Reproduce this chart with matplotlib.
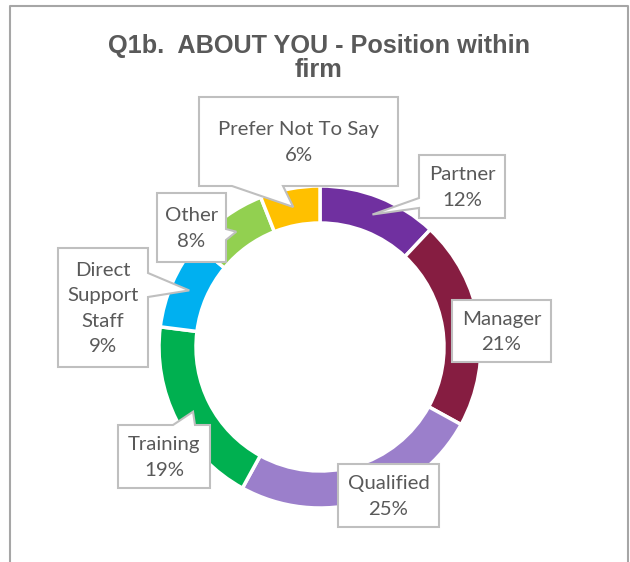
import numpy as np
import matplotlib.pyplot as plt
from matplotlib.patches import Polygon

# data
categories = ["Partner", "Manager", "Qualified", "Training",
              "Direct\nSupport\nStaff", "Other", "Prefer Not To Say"]
shares = [12, 21, 25, 19, 9, 8, 6]
colors = ["#7030A0", "#861D41", "#9B7FCB", "#00B050",
          "#00B0F0", "#92D050", "#FFC000"]

W, H = 630, 562
# label boxes in pixel coords: (x0, y0, x1, y1), pointer side, base range along side
boxes = [
    ((419, 155, 505, 218), "left", (198, 208)),
    ((452, 300, 551, 362), None, None),
    ((338, 464, 439, 527), None, None),
    ((118, 425, 210, 488), "top", (173, 195)),
    ((58, 248, 148, 367), "right", (273, 297)),
    ((157, 193, 226, 262), "right", (229, 240)),
    ((199, 97, 398, 186), "bottom", (232, 283)),
]

cx, cy, R, ring = 320, 347, 161, 37


def callout(box, side, base, tip):
    x0, y0, x1, y1 = box
    pts = [(x0, y0), (x1, y0)]
    if side == "right":
        pts += [(x1, base[0]), tip, (x1, base[1])]
    pts += [(x1, y1)]
    if side == "bottom":
        pts += [(base[1], y1), tip, (base[0], y1)]
    pts += [(x0, y1)]
    if side == "left":
        pts += [(x0, base[1]), tip, (x0, base[0])]
    if side == "top":
        pts = [(x0, y0), (base[0], y0), tip, (base[1], y0)] + pts[1:]
    return [(x, H - y) for x, y in pts]


fig = plt.figure(figsize=(6.3, 5.62), dpi=100)
ax = fig.add_axes([0, 0, 1, 1])

ax.pie(shares, colors=colors, startangle=90, counterclock=False,
       center=(cx, H - cy), radius=R, frame=True,
       wedgeprops=dict(width=ring, edgecolor="white", linewidth=2.5))
ax.set_xlim(0, W)
ax.set_ylim(0, H)
ax.set_aspect("equal")
ax.axis("off")

# chart border
ax.plot([10, 10, 627.5, 627.5], [0, H - 6, H - 6, 0], color="#A6A6A6", lw=1.5)

fig.text(0.506, 1 - 58 / H, "Q1b.  ABOUT YOU - Position within\nfirm",
         ha="center", va="center", fontsize=18.2, fontweight="bold",
         color="#595959", family="Liberation Sans", linespacing=1.0)

cum = np.cumsum([0] + shares[:-1])
total = sum(shares)
for name, val, c0, (box, side, base) in zip(categories, shares, cum, boxes):
    mid = (c0 + val / 2) / total * 2 * np.pi
    r_tip = R - ring / 2
    tip = (cx + r_tip * np.sin(mid), cy - r_tip * np.cos(mid))
    poly = Polygon(callout(box, side, base, tip), closed=True, fc="white",
                   ec="#BFBFBF", lw=1.5, zorder=3)
    ax.add_patch(poly)
    x0, y0, x1, y1 = box
    ax.text((x0 + x1) / 2, H - (y0 + y1) / 2 - 1, f"{name}\n{val}%",
            ha="center", va="center", fontsize=14.7, color="#595959",
            family="Lato", linespacing=1.6, zorder=4)

fig.savefig("out.png", dpi=100)
